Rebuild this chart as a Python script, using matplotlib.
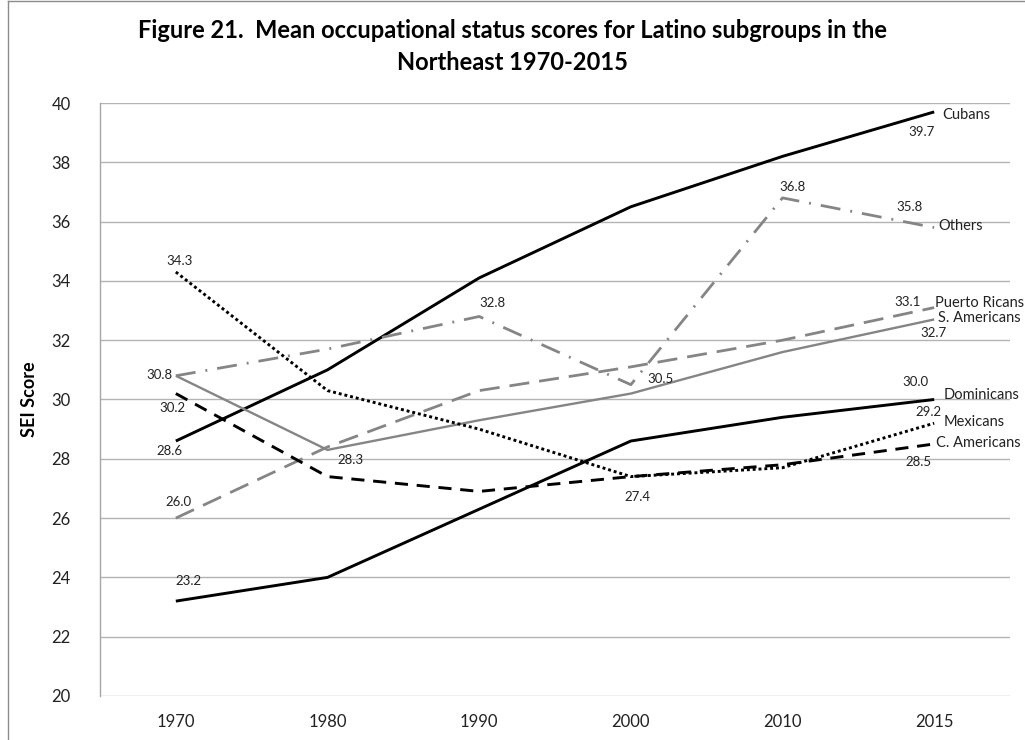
import matplotlib
matplotlib.use("Agg")
import matplotlib.pyplot as plt
from matplotlib.lines import Line2D

plt.rcParams['font.family'] = ['Lato', 'DejaVu Sans']

years = ["1970", "1980", "1990", "2000", "2010", "2015"]
cubans = [28.6, 31.0, 34.1, 36.5, 38.2, 39.7]
others = [30.8, 31.7, 32.8, 30.5, 36.8, 35.8]
puerto_ricans = [26.0, 28.4, 30.3, 31.1, 32.0, 33.1]
s_americans = [30.8, 28.3, 29.3, 30.2, 31.6, 32.7]
dominicans = [23.2, 24.0, 26.3, 28.6, 29.4, 30.0]
mexicans = [34.3, 30.3, 29.0, 27.4, 27.7, 29.2]
c_americans = [30.2, 27.4, 26.9, 27.4, 27.8, 28.5]

names = ["Cubans", "Others", "Puerto Ricans", "S. Americans",
         "Dominicans", "Mexicans", "C. Americans"]
values = [cubans, others, puerto_ricans, s_americans,
          dominicans, mexicans, c_americans]

GRAY = "#858585"
styles = {
    "Cubans": dict(color="black", lw=2.1, ls="-"),
    "Others": dict(color=GRAY, lw=2.0, ls=(0, (7.2, 3.6, 0.7, 3.6))),
    "Puerto Ricans": dict(color=GRAY, lw=2.0, ls=(0, (7.2, 3.6))),
    "S. Americans": dict(color=GRAY, lw=1.7, ls="-"),
    "Dominicans": dict(color="black", lw=2.1, ls="-"),
    "Mexicans": dict(color="black", lw=2.1, ls=(0, (1, 1))),
    "C. Americans": dict(color="black", lw=2.1, ls=(0, (4.5, 3))),
}

# (series, index, dx, dy) in pixels
value_labels = [
    ("Mexicans", 0, 4, 11), ("Others", 0, -16, 1), ("C. Americans", 0, -3, -14),
    ("Cubans", 0, -6, -10), ("Puerto Ricans", 0, 3, 16), ("Dominicans", 0, 13, 20),
    ("S. Americans", 1, 23, -10), ("Others", 2, 13, 13), ("Others", 3, 30, 6),
    ("Mexicans", 3, 7, -20), ("Others", 4, 10, 11), ("Others", 5, -25, 21),
    ("Cubans", 5, -13, -20), ("Puerto Ricans", 5, -27, 6), ("S. Americans", 5, -1, -14),
    ("Dominicans", 5, -19, 17), ("Mexicans", 5, -6, 11), ("C. Americans", 5, -16, -18),
]
name_offsets = {
    "Cubans": (8, -3), "Others": (4, 2), "Puerto Ricans": (1, 5),
    "S. Americans": (4, 1), "Dominicans": (9, 4), "Mexicans": (9, 1),
    "C. Americans": (2, 1),
}

fig = plt.figure(figsize=(10.25, 7.4), dpi=100)
ax = fig.add_axes([100 / 1025, 44 / 740, 910 / 1025, 593 / 740])

x = list(range(len(years)))
series = dict(zip(names, values))
for n in names:
    ax.plot(x, series[n], solid_capstyle="butt", dash_capstyle="butt", **styles[n], zorder=3)

for n, i, dx, dy in value_labels:
    ax.annotate(f"{series[n][i]:.1f}", (x[i], series[n][i]), xytext=(dx, dy),
                textcoords="offset pixels", ha="center", va="center",
                fontsize=9.5, color="#222222", zorder=4)

for n in names:
    dx, dy = name_offsets[n]
    ax.annotate(n, (x[-1], series[n][-1]), xytext=(dx, dy),
                textcoords="offset pixels", ha="left", va="center",
                fontsize=10.5, color="#222222", annotation_clip=False, zorder=4)

ax.set_xlim(-0.5, len(years) - 0.5)
ax.set_ylim(20, 40)
ax.set_yticks(range(20, 41, 2))
ax.set_xticks(x)
ax.set_xticklabels(years)
ax.yaxis.grid(True, color="#b3b3b3", lw=1.0)
ax.set_axisbelow(True)
ax.tick_params(length=0, labelsize=12, colors="#222222")
ax.tick_params(axis="x", pad=13)
ax.tick_params(axis="y", pad=21)
for s in ["top", "right", "bottom"]:
    ax.spines[s].set_visible(False)
ax.spines["left"].set_color("#a6a6a6")
ax.spines["left"].set_linewidth(1.0)
ax.set_ylabel("SEI Score", fontsize=13, fontweight="bold")
ax.yaxis.set_label_coords(-62 / 910, 0.5)

fig.text(0.5, 1 - 30 / 740, "Figure 21.  Mean occupational status scores for Latino subgroups in the",
         ha="center", va="center", fontsize=17, fontweight="bold")
fig.text(0.5, 1 - 62 / 740, "Northeast 1970-2015",
         ha="center", va="center", fontsize=17, fontweight="bold")

# chart border
fig.add_artist(Line2D([8 / 1025, 8 / 1025], [0, 1 - 1 / 740], transform=fig.transFigure,
                      color="#8c8c8c", lw=1.0))
fig.add_artist(Line2D([8 / 1025, 1], [1 - 1 / 740, 1 - 1 / 740], transform=fig.transFigure,
                      color="#8c8c8c", lw=1.0))

fig.savefig("out.png", dpi=100)
